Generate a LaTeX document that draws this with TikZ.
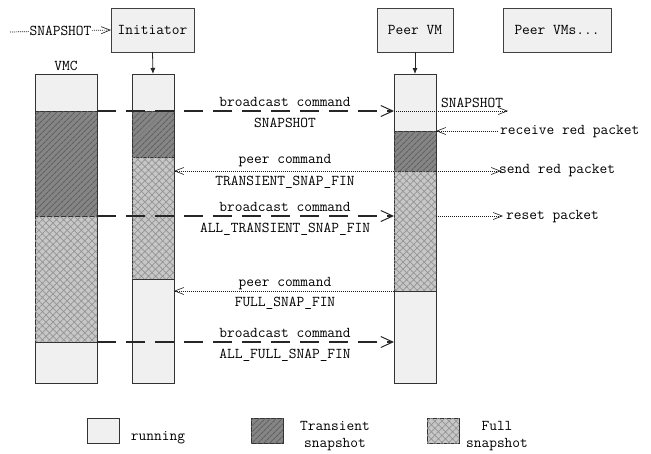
\documentclass[tikz,border=0pt]{standalone}
\usetikzlibrary{arrows.meta,patterns.meta}
\begin{document}
\begin{tikzpicture}[x=1pt,y=-1pt,
  font=\ttfamily\fontsize{15}{17}\selectfont,
  seg/.style={draw=black!80,line width=0.8pt,anchor=north west,inner sep=0pt,outer sep=0pt,minimum width=#1},
  runbox/.style={fill=black!6},
  transbox/.style={fill=black!48,postaction={pattern={Lines[angle=45,distance=4pt,line width=1.1pt]},pattern color=black!62}},
  fullbox/.style={fill=black!22,postaction={pattern={Hatch[angle=45,distance=5pt,line width=0.7pt]},pattern color=black!42}},
  topbox/.style={draw=black!75,line width=0.8pt,fill=black!6,inner sep=0pt,outer sep=0pt,anchor=north west},
  bcast/.style={draw=black!85,line width=1.2pt,dash pattern=on 19pt off 10pt,-{Straight Barb[length=12pt,width=11pt,line width=1pt]}},
  dotarr/.style={draw=black!90,line width=0.7pt,dash pattern=on 1pt off 1pt,-{Straight Barb[length=9pt,width=7pt,line width=0.6pt]}},
  lbl/.style={anchor=base,inner sep=0pt}
]
\useasboundingbox (0,0) rectangle (651,453);

% top boxes
\node[topbox,minimum width=83,minimum height=44] (init) at (111,8) {Initiator};
\node[topbox,minimum width=76,minimum height=44] (peer) at (377,8) {Peer VM};
\node[topbox,minimum width=108,minimum height=44] (peers) at (503,8) {Peer VMs...};

% VMC column
\node[lbl] (vmclbl) at (66,70) {VMC};
\node[seg=62,runbox,minimum height=37] (v1) at (35,74) {};
\node[seg=62,transbox,minimum height=105] (v2) at (35,111) {};
\node[seg=62,fullbox,minimum height=126] (v3) at (35,216) {};
\node[seg=62,runbox,minimum height=41] (v4) at (35,342) {};

% Initiator column
\node[seg=42,runbox,minimum height=37] (i1) at (132,74) {};
\node[seg=42,transbox,minimum height=46] (i2) at (132,111) {};
\node[seg=42,fullbox,minimum height=122] (i3) at (132,157) {};
\node[seg=42,runbox,minimum height=104] (i4) at (132,279) {};

% Peer column
\node[seg=42,runbox,minimum height=57] (p1) at (394,74) {};
\node[seg=42,transbox,minimum height=40] (p2) at (394,131) {};
\node[seg=42,fullbox,minimum height=120] (p3) at (394,171) {};
\node[seg=42,runbox,minimum height=92] (p4) at (394,291) {};

% top arrows
\draw[black!85,line width=0.8pt,-{Latex[length=6pt,width=5pt]}] (init.south) -- (i1.north);
\draw[black!85,line width=0.8pt,-{Latex[length=6pt,width=5pt]}] (peer.south) -- (p1.north);

% SNAPSHOT input
\coordinate (s0) at (10,32);
\draw[dotarr] (s0) -- (init.west) node[midway,fill=white,inner sep=1pt] (snapin) {SNAPSHOT};

% coordinates on edges
\coordinate (vR1) at (97,111);
\coordinate (vR2) at (97,216);
\coordinate (vR3) at (97,342);
\coordinate (pL1) at (394,111);
\coordinate (pL2) at (394,216);
\coordinate (pL3) at (394,342);
\coordinate (pL4) at (394,171);
\coordinate (pL5) at (394,291);
\coordinate (iR1) at (174,171);
\coordinate (iR2) at (174,291);
\coordinate (pR1) at (436,216);

% broadcast 1
\draw[bcast] (vR1) -- (pL1);
\node[lbl] (b1a) at (285,106) {broadcast command};
\node[lbl] (b1b) at (285,127) {SNAPSHOT};
% peer command 1
\draw[dotarr] (pL4) -- (iR1);
\node[lbl] (c1a) at (285,163) {peer command};
\node[lbl] (c1b) at (285,185) {TRANSIENT\_SNAP\_FIN};
% broadcast 2
\draw[bcast] (vR2) -- (pL2);
\node[lbl] (b2a) at (285,211) {broadcast command};
\node[lbl] (b2b) at (285,232) {ALL\_TRANSIENT\_SNAP\_FIN};
% peer command 2
\draw[dotarr] (pL5) -- (iR2);
\node[lbl] (c2a) at (285,286) {peer command};
\node[lbl] (c2b) at (285,306) {FULL\_SNAP\_FIN};
% broadcast 3
\draw[bcast] (vR3) -- (pL3);
\node[lbl] (b3a) at (285,337) {broadcast command};
\node[lbl] (b3b) at (285,358) {ALL\_FULL\_SNAP\_FIN};

% peer side
\coordinate (snapE) at (508,111);
\draw[dotarr] (pL1) -- (snapE);
\node[anchor=base west,inner sep=0pt] (snapout) at (441,107) {SNAPSHOT};

\coordinate (recvS) at (498,131);
\draw[dotarr] (recvS) -- (p2.north east);
\node[anchor=base west,inner sep=0pt] (recv) at (500,134) {receive red packet};

\coordinate (sendE) at (501,171);
\draw[dotarr] (p2.south east) -- (sendE);
\node[anchor=base west,inner sep=0pt] (send) at (499,173) {send red packet};

\coordinate (resetE) at (503,216);
\draw[dotarr] (pR1) -- (resetE);
\node[anchor=base west,inner sep=0pt] (reset) at (506,219) {reset packet};

% legend
\node[seg=32,runbox,minimum height=25] (lg1) at (87,418) {};
\node[lbl] (lt1) at (158,440) {running};
\node[seg=32,transbox,minimum height=25] (lg2) at (251,418) {};
\node[lbl] (lt2a) at (335,430) {Transient};
\node[lbl] (lt2b) at (335,447) {snapshot};
\node[seg=32,fullbox,minimum height=25] (lg3) at (427,418) {};
\node[lbl] (lt3a) at (497,430) {Full};
\node[lbl] (lt3b) at (497,447) {snapshot};
\end{tikzpicture}
\end{document}
